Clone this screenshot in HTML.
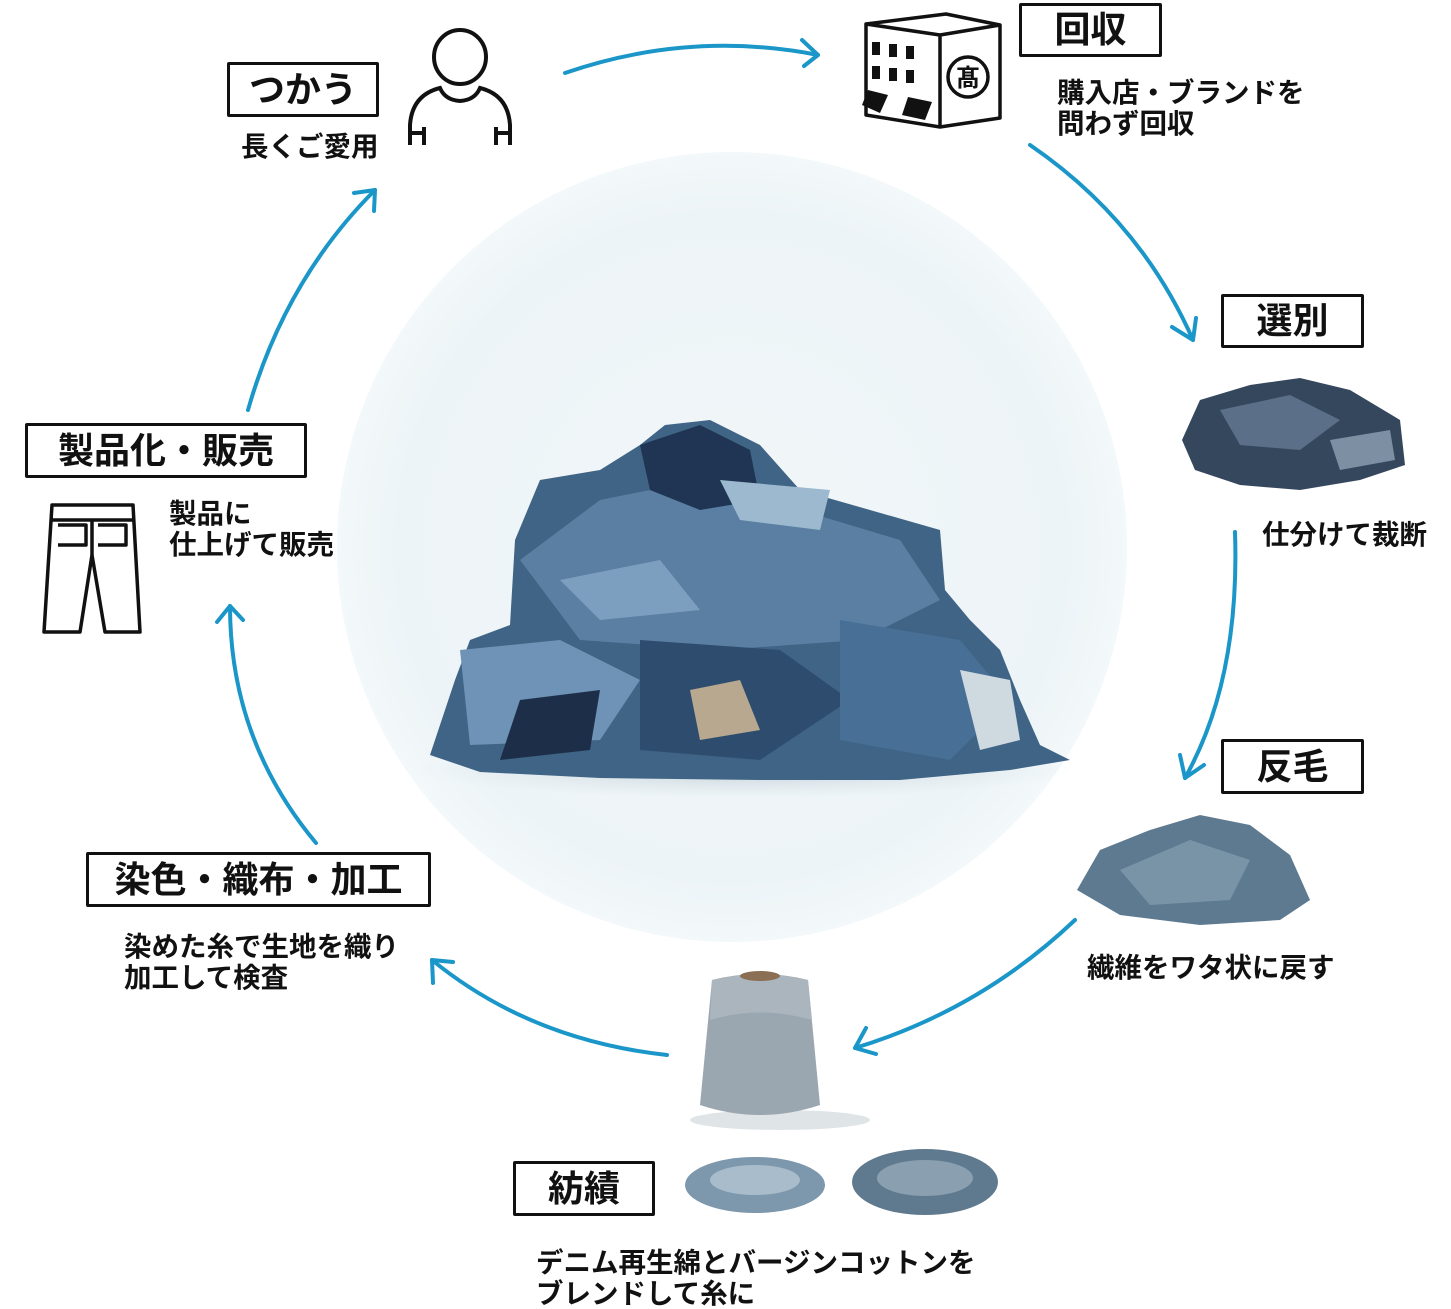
<!DOCTYPE html>
<html><head><meta charset="utf-8"><style>
html,body{margin:0;padding:0;background:#fff;}
body{width:1451px;height:1309px;position:relative;overflow:hidden;font-family:"Liberation Sans","Noto Sans CJK JP",sans-serif;}
.box{position:absolute;box-sizing:border-box;border:3px solid #111;background:#fff;font-weight:bold;color:#111;text-align:center;border-radius:2px;}
.t{position:absolute;font-size:27.5px;line-height:31px;color:#111;font-weight:bold;white-space:nowrap;}
svg{position:absolute;left:0;top:0;}
</style></head><body>
<svg width="1451" height="1309" viewBox="0 0 1451 1309">
<defs>
<radialGradient id="cg" cx="50%" cy="50%" r="50%">
<stop offset="0" stop-color="#f1f6f8"/><stop offset="0.85" stop-color="#edf4f7"/><stop offset="1" stop-color="#f3f8fa"/></radialGradient>
<radialGradient id="sh" cx="50%" cy="50%" r="50%"><stop offset="0" stop-color="#b8c6ce" stop-opacity="0.8"/><stop offset="1" stop-color="#d0dde3" stop-opacity="0"/></radialGradient>
</defs>
<circle cx="732" cy="547" r="395" fill="url(#cg)"/>
<ellipse cx="745" cy="770" rx="330" ry="28" fill="url(#sh)"/>
<path d="M430,755 L455,680 L470,640 L510,625 L515,540 L540,480 L600,470 L640,445 L665,425 L710,420 L760,445 L800,490 L870,510 L940,530 L945,590 L970,620 L1000,650 L1020,700 L1040,745 L1070,760 L1010,770 L900,780 L760,780 L600,778 L480,772 Z" fill="#3f6485"/>
<path d="M520,560 L600,500 L700,480 L800,510 L900,540 L940,600 L860,640 L720,650 L580,640 Z" fill="#5a7fa3"/>
<path d="M640,445 L700,425 L750,450 L760,500 L700,510 L650,490 Z" fill="#1f3553"/>
<path d="M460,650 L560,640 L640,680 L600,740 L470,745 Z" fill="#6f93b6"/>
<path d="M720,480 L830,490 L820,530 L740,520 Z" fill="#9cb9cf"/>
<path d="M640,640 L780,650 L850,700 L760,760 L640,750 Z" fill="#2e4d6e"/>
<path d="M690,690 L740,680 L760,730 L700,740 Z" fill="#b9a890"/>
<path d="M840,620 L960,640 L1010,700 L950,760 L840,740 Z" fill="#486f95"/>
<path d="M520,700 L600,690 L590,750 L500,760 Z" fill="#1d2f48"/>
<path d="M960,670 L1010,680 L1020,740 L980,750 Z" fill="#cfd9e0"/>
<path d="M560,580 L660,560 L700,610 L600,620 Z" fill="#7d9fbf"/>
<path d="M1182,440 L1200,400 L1250,385 L1300,378 L1350,390 L1400,420 L1405,465 L1360,480 L1300,490 L1240,485 L1195,470 Z" fill="#34475d"/>
<path d="M1220,410 L1290,395 L1340,420 L1300,450 L1240,445 Z" fill="#5b7088"/>
<path d="M1330,440 L1390,430 L1395,460 L1340,470 Z" fill="#7c8fa3"/>
<path d="M1077,890 L1100,850 L1150,830 L1200,815 L1250,825 L1290,855 L1310,900 L1280,920 L1200,925 L1120,915 Z" fill="#5e7a90"/>
<path d="M1120,870 L1190,840 L1250,860 L1230,900 L1150,905 Z" fill="#7a94a7"/>
<ellipse cx="780" cy="1120" rx="90" ry="10" fill="#dfe4e7"/>
<path d="M712,980 Q760,968 808,980 L820,1105 Q760,1125 700,1105 Z" fill="#9aa6b0"/>
<path d="M712,980 Q760,968 808,980 L812,1020 Q760,1005 710,1020 Z" fill="#aab5be"/>
<ellipse cx="760" cy="976" rx="20" ry="5" fill="#8a6f55"/>
<ellipse cx="755" cy="1185" rx="70" ry="28" fill="#7d98ad"/>
<ellipse cx="755" cy="1180" rx="45" ry="15" fill="#a9bccb"/>
<ellipse cx="925" cy="1182" rx="73" ry="33" fill="#5f7a8f"/>
<ellipse cx="925" cy="1178" rx="48" ry="18" fill="#8aa0b1"/>
<g fill="none" stroke="#1a96c8" stroke-width="4" stroke-linecap="round" stroke-linejoin="round">
<path d="M565,73 Q690,30 818,55"/><path d="M802,40 L818,55 L804,66"/>
<path d="M1030,145 Q1140,220 1193,340"/><path d="M1172,327 L1193,340 L1196,318"/>
<path d="M1235,532 Q1240,680 1185,778"/><path d="M1180,755 L1185,778 L1204,765"/>
<path d="M1075,920 Q980,1010 855,1048"/><path d="M866,1028 L855,1048 L876,1054"/>
<path d="M667,1055 Q530,1040 432,960"/><path d="M433,983 L432,960 L453,962"/>
<path d="M316,843 Q230,740 230,606"/><path d="M217,622 L230,606 L243,620"/>
<path d="M248,410 Q285,280 375,190"/><path d="M354,193 L375,190 L374,211"/>
</g>
<g fill="none" stroke="#111" stroke-width="4">
<ellipse cx="460" cy="57" rx="26" ry="27"/>
<path d="M410,145 L410,125 Q412,95 440,88 Q445,100 460,101 Q475,100 480,88 Q508,95 510,125 L510,145"/>
<path d="M410,133 L424,133 M424,127 L424,145 M510,133 L496,133 M496,127 L496,145"/>
</g>
<g stroke="#111" stroke-width="3.5" fill="#fff" stroke-linejoin="round">
<path d="M866,24 L946,14 L1000,25 L1000,118 L940,127 L866,115 Z"/>
<path d="M866,24 L940,35 L1000,25 M940,35 L940,127" fill="none"/>
<circle cx="968" cy="77" r="20"/>
</g>
<text x="968" y="86" font-size="24" text-anchor="middle" font-weight="bold" fill="#111" font-family="Noto Sans CJK JP">髙</text>
<g fill="#111">
<rect x="872" y="42" width="8" height="13"/><rect x="889" y="44" width="8" height="13"/><rect x="906" y="46" width="8" height="13"/>
<rect x="872" y="66" width="8" height="13"/><rect x="889" y="68" width="8" height="13"/><rect x="906" y="70" width="8" height="13"/>
<path d="M862,105 L868,90 L888,95 L880,113 Z"/><path d="M902,115 L908,97 L932,102 L925,120 Z"/>
</g>
<g fill="none" stroke="#111" stroke-width="3.5" stroke-linejoin="round">
<path d="M52,505 L133,505 L140,632 L105,632 L92,555 L80,632 L44,632 Z"/>
<path d="M52,520 L133,520 M92,520 L92,555 M58,525 L86,525 L86,545 L58,545 M98,525 L126,525 L126,545 L98,545"/>
</g>
</svg>
<div class="box" style="left:227px;top:62px;width:152px;height:55px;font-size:36px;line-height:49px;">つかう</div>
<div class="box" style="left:1019px;top:3px;width:143px;height:54px;font-size:36px;line-height:48px;">回収</div>
<div class="box" style="left:1221px;top:294px;width:143px;height:54px;font-size:36px;line-height:48px;">選別</div>
<div class="box" style="left:1221px;top:739px;width:143px;height:55px;font-size:36px;line-height:49px;">反毛</div>
<div class="box" style="left:513px;top:1161px;width:142px;height:55px;font-size:36px;line-height:49px;">紡績</div>
<div class="box" style="left:86px;top:852px;width:345px;height:55px;font-size:36px;line-height:49px;">染色・織布・加工</div>
<div class="box" style="left:25px;top:423px;width:282px;height:55px;font-size:36px;line-height:49px;">製品化・販売</div>
<div class="t" style="left:241px;top:131px;">長くご愛用</div>
<div class="t" style="left:1057px;top:77px;">購入店・ブランドを<br>問わず回収</div>
<div class="t" style="left:1262px;top:519px;">仕分けて裁断</div>
<div class="t" style="left:1087px;top:952px;">繊維をワタ状に戻す</div>
<div class="t" style="left:536px;top:1247px;">デニム再生綿とバージンコットンを<br>ブレンドして糸に</div>
<div class="t" style="left:124px;top:931px;">染めた糸で生地を織り<br>加工して検査</div>
<div class="t" style="left:169px;top:498px;">製品に<br>仕上げて販売</div>
</body></html>
